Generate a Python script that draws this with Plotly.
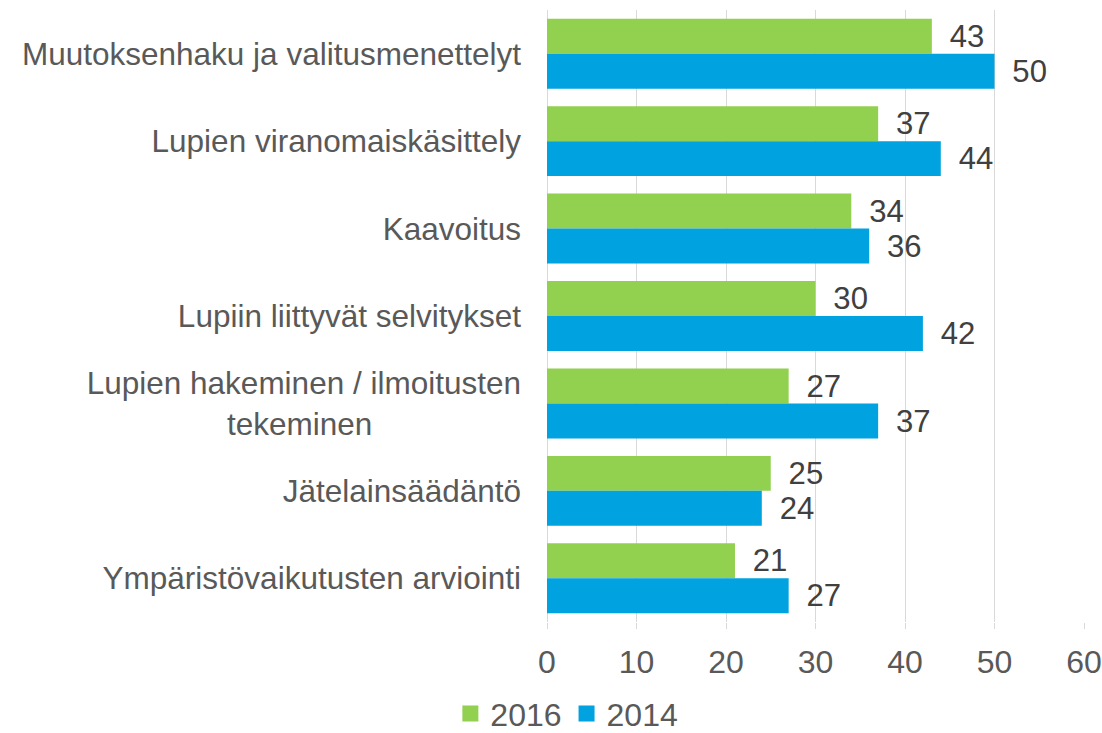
import plotly.graph_objects as go

categories = [
    "Muutoksenhaku ja valitusmenettelyt",
    "Lupien viranomaiskäsittely",
    "Kaavoitus",
    "Lupiin liittyvät selvitykset",
    "Lupien hakeminen / ilmoitusten<br>tekeminen" + "\u00a0" * 17,
    "Jätelainsäädäntö",
    "Ympäristövaikutusten arviointi",
]
values_2016 = [43, 37, 34, 30, 27, 25, 21]
values_2014 = [50, 44, 36, 42, 37, 24, 27]
x_ticks = [0, 10, 20, 30, 40, 50, 60]
series_names = ["2016", "2014"]
series_colors = ["#92D050", "#00A2E0"]

FONT = "Liberation Sans, Arial, sans-serif"
FS = 32
fig = go.Figure()
for name, vals, col in zip(series_names, [values_2016, values_2014], series_colors):
    fig.add_trace(go.Bar(
        y=categories, x=vals, orientation="h", name=name, showlegend=False,
        marker=dict(color=col, line=dict(width=0)),
        text=vals, texttemplate="\u00a0\u2009%{x}", textposition="outside",
        textfont=dict(color="#404040", size=FS, family=FONT), cliponaxis=False,
    ))
for name, col in zip(series_names, series_colors):
    fig.add_trace(go.Scatter(
        x=[None], y=[None], mode="markers", name=name,
        marker=dict(symbol="square", size=17, color=col, line=dict(width=0)),
    ))

fig.update_layout(
    width=1102, height=733,
    margin=dict(l=547, r=18, t=10, b=111, autoexpand=False),
    barmode="group", bargap=0.2, bargroupgap=0,
    plot_bgcolor="white", paper_bgcolor="white",
    font=dict(family=FONT, size=FS, color="#595959"),
    showlegend=True,
    legend=dict(orientation="h", x=0.037, xanchor="center", y=-0.15, yanchor="middle",
                font=dict(size=FS, color="#595959"), traceorder="normal",
                itemwidth=30, tracegroupgap=0),
)
fig.update_xaxes(
    range=[0, 60], tickvals=x_ticks, showgrid=True, gridcolor="#D9D9D9", gridwidth=1,
    zeroline=True, zerolinecolor="#D9D9D9", zerolinewidth=1,
    ticks="outside", ticklen=6, tickcolor="#D9D9D9", showline=False,
    ticklabelstandoff=6, tickfont=dict(size=FS, color="#595959"), automargin=False,
)
fig.update_yaxes(
    autorange="reversed", showgrid=False, ticks="", showline=False,
    ticklabelstandoff=25, tickfont=dict(size=31.5, color="#595959"), automargin=False,
)

fig.write_html(
    "out.html",
    config={"displayModeBar": False},
    post_script="document.body.style.margin='0px';document.body.style.overflow='hidden';",
)
